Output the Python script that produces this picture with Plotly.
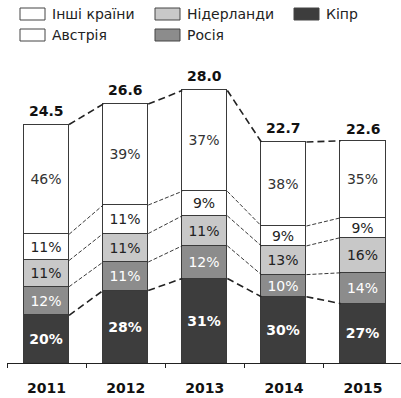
import plotly.graph_objects as go

# Years and total volume for each year
years = ["2011", "2012", "2013", "2014", "2015"]
totals = [24.5, 26.6, 28.0, 22.7, 22.6]

# Country shares (%), stacked bottom to top
countries = ["Кіпр", "Росія", "Нідерланди", "Австрія", "Інші країни"]
share_cyprus = [20, 28, 31, 30, 27]
share_russia = [12, 11, 12, 10, 14]
share_netherlands = [11, 11, 11, 13, 16]
share_austria = [11, 11, 9, 9, 9]
share_other = [46, 39, 37, 38, 35]
shares = [share_cyprus, share_russia, share_netherlands, share_austria, share_other]

fills = ["#3d3d3d", "#8c8c8c", "#c8c8c8", "#ffffff", "#ffffff"]
text_colors = ["#ffffff", "#ffffff", "#222222", "#222222", "#333333"]
text_bold = [True, False, False, False, False]

FONT = "DejaVu Sans"
BAR_W = 0.57
xs = list(range(len(years)))

W, H = 401, 398
ML, MR, MT, MB = 7, 0, 71, 35
PW, PH = W - ML - MR, H - MT - MB

fig = go.Figure()

# Stacked segments: each segment's height is its share of the year's total
cum = [[0.0] * len(years)]
for k, (name, sh) in enumerate(zip(countries, shares)):
    vals = [t * p / 100 for t, p in zip(totals, sh)]
    fig.add_trace(go.Bar(
        x=xs, y=vals, name=name, width=BAR_W,
        marker=dict(color=fills[k], line=dict(color="#3a3a3a", width=1)),
        text=[f"<b>{p}%</b>" if text_bold[k] else f"{p}%" for p in sh],
        textposition="inside", insidetextanchor="middle", textangle=0,
        constraintext="none",
        textfont=dict(family=FONT, size=14, color=text_colors[k]),
        hoverinfo="skip", showlegend=False,
    ))
    cum.append([c + v for c, v in zip(cum[-1], vals)])

# Dashed connectors joining each segment boundary between neighbouring bars
for k in range(1, len(cum)):
    lx, ly = [], []
    for i in range(len(years) - 1):
        lx += [i + BAR_W / 2, i + 1 - BAR_W / 2, None]
        ly += [cum[k][i], cum[k][i + 1], None]
    thick = k in (1, len(cum) - 1)
    fig.add_trace(go.Scatter(
        x=lx, y=ly, mode="lines", hoverinfo="skip", showlegend=False,
        line=dict(color="#222222", width=1.6 if thick else 0.9,
                  dash="7px,4px" if thick else "4px,2px"),
    ))

# Totals above each bar
for i, t in enumerate(totals):
    fig.add_annotation(x=i, y=t, text=f"<b>{t:.1f}</b>", showarrow=False,
                       yanchor="bottom", yshift=4,
                       font=dict(family=FONT, size=14, color="#111111"))


def px_x(px):
    return (px - ML) / PW


def px_y(py):
    return (H - MB - py) / PH


# Legend drawn as boxes with labels, two rows
legend_items = [
    ("Інші країни", "#ffffff", 20, 8),
    ("Нідерланди", "#c8c8c8", 155, 8),
    ("Кіпр", "#3d3d3d", 294, 8),
    ("Австрія", "#ffffff", 20, 29),
    ("Росія", "#8c8c8c", 155, 29),
]
for label, col, px, py in legend_items:
    fig.add_shape(type="rect", xref="paper", yref="paper",
                  x0=px_x(px), x1=px_x(px + 25),
                  y0=px_y(py + 12), y1=px_y(py),
                  fillcolor=col, line=dict(color="#444444", width=1))
    fig.add_annotation(xref="paper", yref="paper", x=px_x(px + 30),
                       y=px_y(py + 6), text=label, showarrow=False,
                       xanchor="left", yanchor="middle",
                       font=dict(family=FONT, size=14, color="#222222"))

fig.update_layout(
    width=W, height=H, barmode="stack", bargap=0,
    margin=dict(l=ML, r=MR, t=MT, b=MB),
    plot_bgcolor="white", paper_bgcolor="white",
    xaxis=dict(
        range=[-0.5, 4.48], tickvals=xs, ticktext=[f"<b>{y}</b>" for y in years],
        ticks="", showgrid=False, zeroline=False,
        showline=True, linecolor="#222222", linewidth=1.2,
        tickfont=dict(family=FONT, size=14, color="#111111"),
        ticklabelstandoff=12,
        minor=dict(tickvals=[-0.5, 0.5, 1.5, 2.5, 3.5], ticks="outside",
                   ticklen=4, tickcolor="#222222", tickwidth=1.2),
    ),
    yaxis=dict(range=[0, 30], visible=False),
)

fig.write_html("out.html")
